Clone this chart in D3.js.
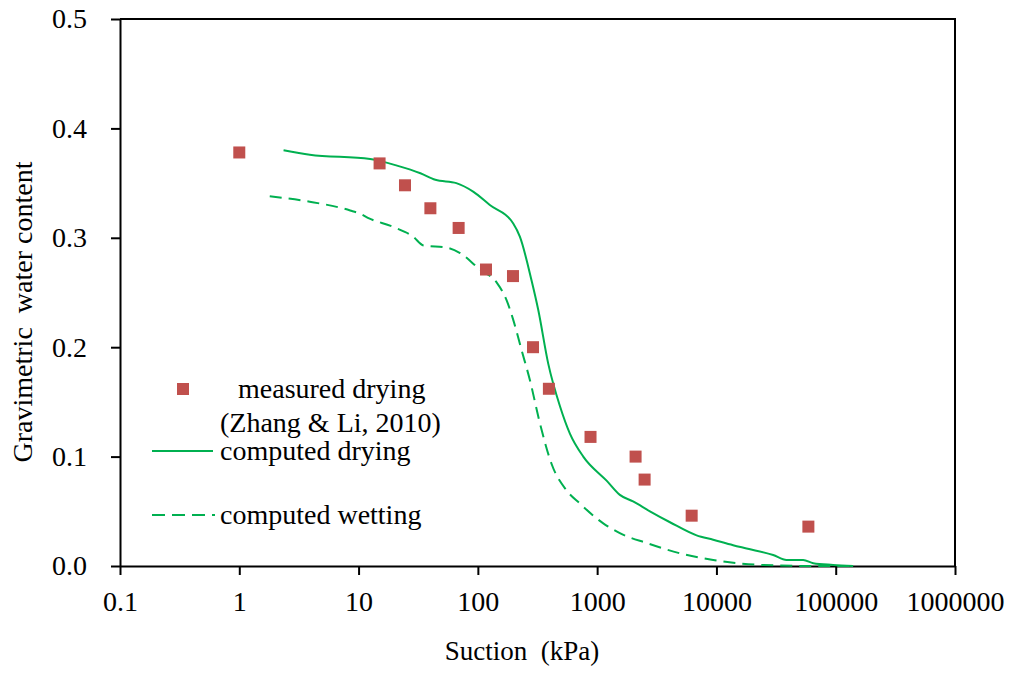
<!DOCTYPE html>
<html>
<head>
<meta charset="utf-8">
<script src="https://cdn.jsdelivr.net/npm/d3@7"></script>
<style>
  body { margin: 0; background: #fff; }
  svg { display: block; }
  text { font-family: "Liberation Serif", "DejaVu Serif", serif; }
</style>
</head>
<body>
<svg id="chart" width="1014" height="673"></svg>
<script>
// measured drying (Zhang & Li, 2010)
const measuredSuction = [1, 15, 24.5, 40, 69, 117, 197, 290, 394, 880, 2100, 2500, 6200, 59000];
const measuredWater = [0.378, 0.368, 0.348, 0.327, 0.309, 0.271, 0.265, 0.200, 0.162, 0.118, 0.100, 0.079, 0.046, 0.036];

// computed drying
const dryingSuction = [2.35, 3.9, 12.5, 21, 33, 44, 66, 92, 126, 198, 225, 282, 321, 389, 488, 591, 765, 1200, 1550, 2000, 2770, 4080, 6820, 9400, 13800, 17900, 29900, 38700, 53400, 64800, 95000, 140000];
const dryingWater = [0.380, 0.376, 0.372, 0.366, 0.359, 0.353, 0.350, 0.342, 0.330, 0.313, 0.301, 0.261, 0.234, 0.185, 0.146, 0.121, 0.100, 0.078, 0.065, 0.059, 0.050, 0.040, 0.028, 0.024, 0.019, 0.016, 0.010, 0.0055, 0.0055, 0.0025, 0.001, 0];

// computed wetting
const wettingSuction = [1.8, 3.9, 8.5, 10.3, 12.1, 19.5, 28.7, 35, 55, 71, 104, 144, 174, 198, 233, 273, 332, 416, 555, 718, 1125, 1550, 2600, 4940, 9400, 24700, 65000, 140000];
const wettingWater = [0.338, 0.333, 0.325, 0.322, 0.318, 0.310, 0.301, 0.293, 0.291, 0.286, 0.271, 0.259, 0.243, 0.225, 0.197, 0.170, 0.130, 0.093, 0.069, 0.057, 0.039, 0.030, 0.021, 0.0116, 0.0055, 0.0009, 0, 0];

const xTicks = [0.1, 1, 10, 100, 1000, 10000, 100000, 1000000];
const yTicks = [0, 0.1, 0.2, 0.3, 0.4, 0.5];

const green = "#00b050";
const red = "#c0504d";
const serif = "Liberation Serif";

const svg = d3.select("#chart");

const x = d3.scaleLog().domain([0.1, 1000000]).range([120, 955]);
const y = d3.scaleLinear().domain([0, 0.5]).range([566, 19]);

// frame (top and right)
svg.append("path")
  .attr("d", `M${x(0.1)},${y(0.5)}H${x(1000000)}V${y(0)}`)
  .attr("fill", "none")
  .attr("stroke", "#000")
  .attr("stroke-width", 2);

const xAxis = svg.append("g")
  .attr("transform", `translate(0,${y(0)})`)
  .call(d3.axisBottom(x).tickValues(xTicks).tickFormat(d3.format("")).tickSize(9).tickPadding(16).tickSizeOuter(0));

const yAxis = svg.append("g")
  .attr("transform", `translate(${x(0.1)},0)`)
  .call(d3.axisLeft(y).tickValues(yTicks).tickFormat(d3.format(".1f")).tickSize(9).tickPadding(24).tickSizeOuter(0));

[xAxis, yAxis].forEach(g => {
  g.attr("font-family", serif).attr("font-size", 28);
  g.select(".domain").attr("stroke-width", 2);
  g.selectAll(".tick line").attr("stroke-width", 2);
  g.selectAll(".tick text").attr("fill", "#000");
});

const line = d3.line()
  .x(d => x(d[0]))
  .y(d => y(d[1]))
  .curve(d3.curveMonotoneX);

svg.append("path")
  .datum(d3.zip(wettingSuction, wettingWater))
  .attr("d", line)
  .attr("fill", "none")
  .attr("stroke", green)
  .attr("stroke-width", 2)
  .attr("stroke-dasharray", "12,7");

svg.append("path")
  .datum(d3.zip(dryingSuction, dryingWater))
  .attr("d", line)
  .attr("fill", "none")
  .attr("stroke", green)
  .attr("stroke-width", 2);

svg.append("g")
  .selectAll("rect")
  .data(d3.zip(measuredSuction, measuredWater))
  .join("rect")
  .attr("x", d => x(d[0]) - 6)
  .attr("y", d => y(d[1]) - 6)
  .attr("width", 12)
  .attr("height", 12)
  .attr("fill", red);

// axis titles
svg.append("text")
  .attr("x", 522)
  .attr("y", 660)
  .attr("text-anchor", "middle")
  .attr("font-family", serif)
  .attr("font-size", 27)
  .attr("xml:space", "preserve")
  .text("Suction  (kPa)");

svg.append("text")
  .attr("transform", "translate(32,312) rotate(-90)")
  .attr("text-anchor", "middle")
  .attr("font-family", serif)
  .attr("font-size", 28)
  .attr("xml:space", "preserve")
  .text("Gravimetric  water content");

// legend
const legend = svg.append("g")
  .attr("font-family", serif)
  .attr("font-size", 28);

legend.append("rect")
  .attr("x", 177).attr("y", 383).attr("width", 12).attr("height", 12)
  .attr("fill", red);
legend.append("text").attr("x", 238).attr("y", 398).text("measured drying");
legend.append("text").attr("x", 220).attr("y", 432).text("(Zhang & Li, 2010)");

legend.append("line")
  .attr("x1", 152).attr("x2", 213).attr("y1", 451).attr("y2", 451)
  .attr("stroke", green).attr("stroke-width", 2);
legend.append("text").attr("x", 220).attr("y", 460).text("computed drying");

legend.append("line")
  .attr("x1", 152).attr("x2", 215).attr("y1", 515).attr("y2", 515)
  .attr("stroke", green).attr("stroke-width", 2)
  .attr("stroke-dasharray", "13,7");
legend.append("text").attr("x", 220).attr("y", 524).text("computed wetting");
</script>
</body>
</html>
